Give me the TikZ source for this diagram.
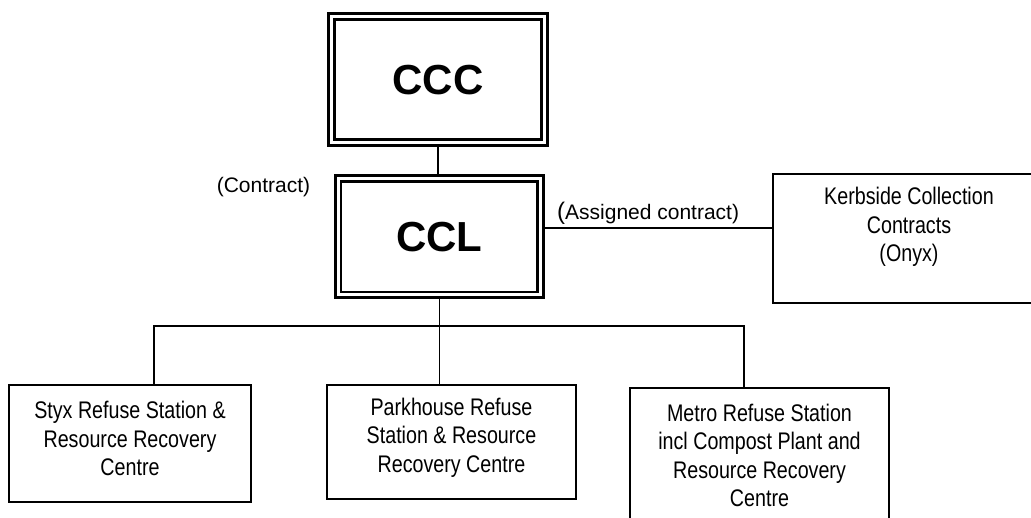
\documentclass[tikz,border=0pt]{standalone}
\usepackage{fontspec}
\setmainfont{Liberation Sans}
\newfontfamily\narrowfont[FakeStretch=0.82]{Liberation Sans}
\begin{document}
\begin{tikzpicture}[x=1pt,y=-1pt,
  dbox/.style={draw, double, line width=2.8pt, double distance=3pt, inner sep=0pt,
    font=\fontsize{42}{48}\selectfont\bfseries},
  sbox/.style={draw, line width=1.8pt, inner sep=0pt},
  btext/.style={inner sep=0pt, align=center, font=\narrowfont\fontsize{24}{28.5}\selectfont},
  lbl/.style={inner sep=0pt, font=\fontsize{21}{25}\selectfont},
  conn/.style={line width=1.8pt}]
\useasboundingbox (0,0) rectangle (1031,518);
% main boxes
\node[dbox, minimum width=213.25pt, minimum height=126.25pt] (ccc) at (438.1,79.6) {CCC};
\node[dbox, minimum width=202.75pt, minimum height=116.75pt] (ccl) at (439.4,236.6) {CCL};
% side box
\node[sbox, minimum width=272pt, minimum height=129pt] (kerb) at (909,238.5) {};
\node[btext] (kerbT) at (909,227) {Kerbside Collection\\Contracts\\(Onyx)};
% bottom boxes
\node[sbox, minimum width=242pt, minimum height=117pt] (styx) at (130,443.5) {};
\node[btext] (styxT) at (130,438.5) {Styx Refuse Station \&\\Resource Recovery\\Centre};
\node[sbox, minimum width=249pt, minimum height=114pt] (park) at (451.5,442) {};
\node[btext] (parkT) at (451.5,437.5) {Parkhouse Refuse\\Station \& Resource\\Recovery Centre};
\node[sbox, minimum width=259pt, minimum height=152pt] (metro) at (759.5,464) {};
\node[btext] (metroT) at (759.5,455.5) {Metro Refuse Station\\incl Compost Plant and\\Resource Recovery\\Centre};
% labels
\node[lbl] (contract) at (263.5,187) {(Contract)};
\node[lbl, anchor=south west] (assigned) at (557,225) {{\fontsize{24}{25}\selectfont(}Assigned contract)};
% connectors
\coordinate (bl) at (154,326);
\coordinate (br) at (744,326);
\coordinate (kj) at (773,228);
\draw[conn] (ccc.south) -- (ccc.south |- ccl.north);
\draw[conn] (ccl.south) -- (ccl.south |- park.north);
\draw[conn] (bl |- styx.north) -- (bl) -- (br) -- (br |- metro.north);
\draw[conn] (kj -| ccl.east) -- (kj -| kerb.west);
\end{tikzpicture}
\end{document}
